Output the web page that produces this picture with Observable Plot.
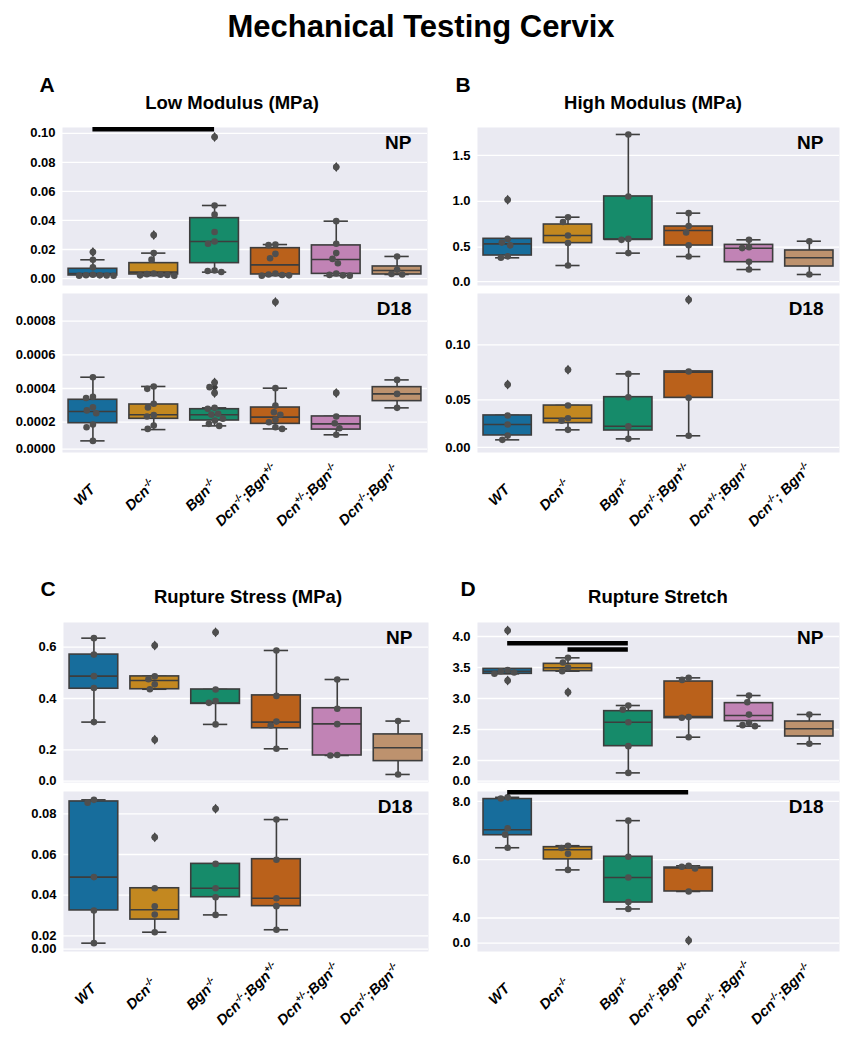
<!DOCTYPE html>
<html>
<head>
<meta charset="utf-8">
<script src="https://cdn.jsdelivr.net/npm/d3@7"></script>
<script src="https://cdn.jsdelivr.net/npm/@observablehq/plot@0.6"></script>
<style>
  html, body { margin: 0; padding: 0; background: #fff; }
  #root { position: relative; width: 843px; height: 1050px; background: #fff;
          font-family: "Liberation Sans", Arial, Helvetica, sans-serif; color: #000; overflow: hidden; }
  .abs { position: absolute; white-space: nowrap; font-weight: bold; transform: translate(-50%, -50%); line-height: 1; }
</style>
</head>
<body>
<div id="root"></div>
<script>
// ---------------- DATA ----------------
const groups = ["WT", "Dcn^-/-", "Bgn^-/-", "Dcn^-/-;Bgn^+/-", "Dcn^+/-;Bgn^-/-", "Dcn^-/-;Bgn^-/-"];
const labelsTop = ["WT", "Dcn^-/-", "Bgn^-/-", "Dcn^-/-;Bgn^+/-", "Dcn^+/-;Bgn^-/-", "Dcn^-/-;Bgn^-/-"];
const labelsTopB = ["WT", "Dcn^-/-", "Bgn^-/-", "Dcn^-/-;Bgn^+/-", "Dcn^+/-;Bgn^-/-", "Dcn^-/-; Bgn^-/-"];
const labelsBottomC = ["WT", "Dcn^-/-", "Bgn^-/-", "Dcn^-/-;Bgn^+/-", "Dcn^+/-;Bgn^-/-", "Dcn^-/-;Bgn^-/-"];
const labelsBottomD = ["WT", "Dcn^-/-", "Bgn^-/-", "Dcn^-/-;Bgn^+/-", "Dcn^+/- ;Bgn^-/-", "Dcn^-/-;Bgn^-/-"];
const colors = ["#176d9c", "#c38820", "#168b6a", "#ba611b", "#c183b5", "#bd926e"];

// box stats per group: [low whisker, q1, median, q3, high whisker]
// A. Low Modulus
const lowModNP_box = [[0.0020,0.0021,0.0035,0.0067,0.0129],[0.0020,0.0028,0.0044,0.0106,0.0175],[0.0044,0.0106,0.0255,0.0416,0.0503],[0.0020,0.0028,0.0094,0.0209,0.0234],[0.0020,0.0032,0.0131,0.0228,0.0395],[0.0028,0.0028,0.0055,0.0083,0.0152]];
const lowModNP_out = [[0.0182],[0.030],[0.0975],[],[0.0768],[]];
const lowModNP_pts = [[0.0182,0.0129,0.0078,0.0026,0.0023,0.0021,0.0020,0.0019,0.0022],[0.030,0.0175,0.013,0.0035,0.0030,0.0026,0.0022,0.0020,0.0024],[0.0975,0.0503,0.044,0.032,0.0255,0.024,0.0055,0.0052,0.0045],[0.0234,0.0230,0.017,0.014,0.0035,0.0028,0.0024,0.0022,0.0020],[0.0768,0.0395,0.024,0.0175,0.0135,0.0105,0.0035,0.0025,0.0022,0.0020],[0.0152,0.0060,0.0032,0.0028]];
const lowModNP_ticks = [0, 0.02, 0.04, 0.06, 0.08, 0.10];
const lowModNP_tickLabels = ["0.00","0.02","0.04","0.06","0.08","0.10"];
const lowModNP_domain = [-0.0048, 0.104];
const lowModNP_bars = [[0, 2, 0.1028]];

const lowModD18_box = [[0.000089,0.000194,0.000263,0.000333,0.000467],[0.000156,0.00022,0.000244,0.000305,0.000412],[0.000178,0.00021,0.000244,0.000277,0.000285],[0.00016,0.00019,0.00023,0.000287,0.000402],[0.000125,0.000156,0.00019,0.000234,0.000234],[0.000285,0.000325,0.000368,0.000408,0.000451]];
const lowModD18_out = [[],[],[0.000436,0.000408,0.000374],[0.000913],[0.000374],[]];
const lowModD18_pts = [[0.000467,0.00035,0.000344,0.000289,0.00027,0.000253,0.000186,0.00017,0.000089],[0.000412,0.000398,0.000309,0.000287,0.000242,0.000234,0.00018,0.00016],[0.000436,0.000408,0.000374,0.000285,0.00028,0.00025,0.000245,0.00022,0.00021,0.00019,0.000178],[0.000913,0.000402,0.000299,0.000259,0.000244,0.000214,0.0002,0.00017,0.00016],[0.000374,0.000234,0.000194,0.000164,0.000125],[0.000451,0.000368,0.000285]];
const lowModD18_ticks = [0.00004, 0.0002, 0.0004, 0.0006, 0.0008];
const lowModD18_tickLabels = ["0.0000","0.0002","0.0004","0.0006","0.0008"];
const lowModD18_domain = [0.00002, 0.000964];

// B. High Modulus
const highModNP_box = [[0.384,0.409,0.536,0.591,0.591],[0.30,0.544,0.627,0.747,0.827],[0.435,0.584,0.584,1.053,1.729],[0.398,0.518,0.682,0.725,0.871],[0.256,0.336,0.489,0.525,0.58],[0.202,0.289,0.384,0.464,0.565]];
const highModNP_out = [[1.016],[],[],[],[],[]];
const highModNP_pts = [[1.016,0.59,0.55,0.52,0.40,0.385],[0.827,0.775,0.627,0.545,0.30],[1.729,1.053,0.59,0.58,0.435],[0.871,0.73,0.66,0.52,0.398],[0.58,0.50,0.49,0.34,0.256],[0.565,0.202]];
const highModNP_ticks = [0.125, 0.5, 1.0, 1.5];
const highModNP_tickLabels = ["0.0","0.5","1.0","1.5"];
const highModNP_domain = [0.082, 1.805];

const highModD18_box = [[0.0136,0.0176,0.0276,0.0358,0.0358],[0.0227,0.0288,0.0333,0.0448,0.0448],[0.0145,0.0221,0.026,0.0524,0.0736],[0.0173,0.0518,0.0752,0.0758,0.0758],null,null];
const highModD18_out = [[0.0639],[0.0773],[],[0.141],[],[]];
const highModD18_pts = [[0.0639,0.0358,0.0276,0.0176,0.0136],[0.0773,0.0448,0.0333,0.031,0.0227],[0.0736,0.0524,0.026,0.0145],[0.141,0.0758,0.0518,0.0173],[],[]];
const highModD18_ticks = [0.0067, 0.05, 0.10];
const highModD18_tickLabels = ["0.00","0.05","0.10"];
const highModD18_domain = [0.0021, 0.1467];

// C. Rupture Stress
const ruptStressNP_box = [[0.308,0.438,0.487,0.571,0.635],[0.436,0.436,0.470,0.486,0.486],[0.299,0.379,0.382,0.435,0.435],[0.204,0.284,0.308,0.412,0.587],[0.178,0.178,0.301,0.362,0.474],[0.104,0.156,0.208,0.260,0.312]];
const ruptStressNP_out = [[],[0.606,0.239],[0.658],[],[],[]];
const ruptStressNP_pts = [[0.635,0.571,0.487,0.441,0.308],[0.606,0.486,0.475,0.455,0.436,0.239],[0.658,0.435,0.39,0.383,0.299],[0.587,0.41,0.31,0.295,0.204],[0.474,0.36,0.30,0.18,0.178],[0.312,0.104]];
const ruptStressNP_ticks = [0.078, 0.2, 0.4, 0.6];
const ruptStressNP_tickLabels = ["0.0","0.2","0.4","0.6"];
const ruptStressNP_domain = [0.0727, 0.696];

const ruptStressD18_box = [[0.0164,0.0325,0.0489,0.0861,0.0869],[0.0218,0.028,0.0328,0.0434,0.0434],[0.0303,0.039,0.0434,0.0554,0.0554],[0.023,0.0346,0.0385,0.0577,0.0772],null,null];
const ruptStressD18_out = [[],[0.0685],[0.0825],[],[],[]];
const ruptStressD18_pts = [[0.0869,0.0855,0.0489,0.0325,0.0164],[0.0685,0.0434,0.0345,0.0305,0.0218],[0.0825,0.0554,0.0434,0.039,0.0303],[0.0772,0.0574,0.0385,0.0346,0.023],[],[]];
const ruptStressD18_ticks = [0.0135, 0.02, 0.04, 0.06, 0.08];
const ruptStressD18_tickLabels = ["0.00","0.02","0.04","0.06","0.08"];
const ruptStressD18_domain = [0.0123, 0.091];

// D. Rupture Stretch
const ruptStretchNP_box = [[3.398,3.398,3.44,3.478,3.478],[3.441,3.441,3.495,3.559,3.656],[1.80,2.231,2.618,2.796,2.887],[2.376,2.683,2.71,3.274,3.333],[2.554,2.634,2.726,2.925,3.048],[2.269,2.387,2.511,2.629,2.742]];
const ruptStretchNP_out = [[4.097,3.29],[3.10],[],[],[],[]];
const ruptStretchNP_pts = [[4.097,3.46,3.44,3.42,3.40,3.29],[3.656,3.58,3.50,3.44,3.10],[2.887,2.82,2.618,2.231,1.80],[3.333,3.30,2.70,2.69,2.376],[3.048,2.94,2.74,2.61,2.57,2.554],[2.742,2.269]];
const ruptStretchNP_ticks = [1.667, 2.0, 2.5, 3.0, 3.5, 4.0];
const ruptStretchNP_tickLabels = ["0.0","2.0","2.5","3.0","3.5","4.0"];
const ruptStretchNP_domain = [1.645, 4.226];
const ruptStretchNP_bars = [[0, 2, 3.892], [1, 2, 3.790]];

const ruptStretchD18_box = [[6.41,6.84,7.03,8.08,8.14],[5.65,6.01,6.34,6.43,6.48],[4.31,4.53,5.39,6.10,7.34],[4.91,4.91,5.72,5.73,5.79],null,null];
const ruptStretchD18_out = [[],[],[],[3.23],[],[]];
const ruptStretchD18_pts = [[8.14,8.10,7.08,6.86,6.41],[6.48,6.40,6.20,5.65],[7.34,6.10,5.39,4.55,4.31],[5.79,5.76,5.70,4.91,3.23],[],[]];
const ruptStretchD18_ticks = [3.14, 4, 6, 8];
const ruptStretchD18_tickLabels = ["0.0","4.0","6.0","8.0"];
const ruptStretchD18_domain = [2.85, 8.34];
const ruptStretchD18_bars = [[0, 3, 8.318]];

// ---------------- DRAWING ----------------
const EDGE = "#3d3d3d";
const PT = "#4f4f4f";
const R = 3.3;
const LABEL_SIZE = 14.5;
const LABEL_GAP = 46;
const NS = "http://www.w3.org/2000/svg";
const root = document.getElementById("root");

const thinDiamond = {
  draw(ctx, size) {
    const r = Math.sqrt(size / Math.PI);
    ctx.moveTo(0, -r * 1.25);
    ctx.lineTo(r * 0.85, 0);
    ctx.lineTo(0, r * 1.25);
    ctx.lineTo(-r * 0.85, 0);
    ctx.closePath();
  }
};

function swarm(ys, d) {
  const order = ys.map((y, k) => k).sort((a, b) => ys[a] - ys[b]);
  const xs = new Array(ys.length);
  const placed = [];
  for (const k of order) {
    const y = ys[k];
    const cands = [0];
    for (const p of placed) {
      const dy = Math.abs(p.y - y);
      if (dy < d) { const dx = Math.sqrt(d * d - dy * dy); cands.push(p.x + dx, p.x - dx); }
    }
    cands.sort((a, b) => (Math.abs(a) - Math.abs(b)) || (a - b));
    let x = 0;
    for (const c of cands) {
      if (placed.every(p => (p.x - c) ** 2 + (p.y - y) ** 2 >= d * d - 1e-6)) { x = c; break; }
    }
    xs[k] = x;
    placed.push({x, y});
  }
  return xs;
}

function addText(txt, x, y, size) {
  const el = document.createElement("div");
  el.className = "abs";
  el.style.left = x + "px";
  el.style.top = y + "px";
  el.style.fontSize = size + "px";
  el.textContent = txt;
  root.appendChild(el);
}

// turn "Dcn^-/-" into Dcn with a superscript "-/-", and place each rotated label so that
// its bounding box's right edge sits just right of its tick and its centre lies on a common line
function fixLabels(svg, centerY) {
  const texts = Array.from(svg.querySelectorAll("text")).filter(t => (t.getAttribute("transform") || "").includes("rotate"));
  texts.forEach(t => {
    const s = t.textContent;
    while (t.firstChild) t.removeChild(t.firstChild);
    const parts = s.split(/\^([+\-]\/[+\-])/);
    let shifted = false;
    parts.forEach((p, k) => {
      if (!p) return;
      const ts = document.createElementNS(NS, "tspan");
      ts.textContent = p;
      if (k % 2 === 1) {
        ts.setAttribute("font-size", "9.5");
        ts.setAttribute("dy", "-5.5");
        shifted = true;
      } else if (shifted) {
        ts.setAttribute("dy", "5.5");
        shifted = false;
      }
      t.appendChild(ts);
    });
    const tr = t.getAttribute("transform");
    const m = tr.match(/translate\(\s*([-\d.e]+)[ ,]+([-\d.e]+)\s*\)/);
    const tx = m ? +m[1] : +(t.getAttribute("x") || 0);
    const L = t.getComputedTextLength();
    const half = (L + LABEL_SIZE) * Math.SQRT1_2 / 2;
    const cx = tx + 8 - half;
    t.removeAttribute("x");
    t.removeAttribute("y");
    t.setAttribute("transform", `translate(${cx},${centerY}) rotate(-45)`);
  });
}

function sub(cfg) {
  const {box, out, pts, ticks, tickLabels, domain, bars, tag, labels, left, top, w, h} = cfg;
  const ML = 60, MR = 3, MT = 6, MB = labels ? 115 : 6;
  const bw = w / 6;
  const yPix = v => (domain[1] - v) / (domain[1] - domain[0]) * h;
  const boxData = box.map((b, i) => b && {i, lo: b[0], q1: b[1], med: b[2], q3: b[3], hi: b[4]}).filter(Boolean);
  const outData = out.flatMap((arr, i) => arr.map(v => ({i, v})));
  const ptData = pts.flatMap((arr, i) => {
    const off = swarm(arr.map(yPix), 2 * R + 0.3);
    return arr.map((v, k) => ({i, v, dx: off[k] / bw}));
  });
  const tickMap = new Map(ticks.map((t, k) => [t, tickLabels[k]]));
  const marks = [
    Plot.frame({fill: "#EAEAF2", stroke: "none"}),
    Plot.ruleY(ticks, {stroke: "#ffffff", strokeWidth: 1.3}),
    Plot.axisY(ticks, {tickSize: 0, tickPadding: 7, tickFormat: d => tickMap.get(d), fontSize: 13, fontWeight: "bold", fill: "#000", label: null}),
    Plot.ruleX(boxData, {x: "i", y1: "lo", y2: "q1", stroke: EDGE, strokeWidth: 1.6}),
    Plot.ruleX(boxData, {x: "i", y1: "q3", y2: "hi", stroke: EDGE, strokeWidth: 1.6}),
    Plot.ruleY(boxData, {y: "lo", x1: d => d.i - 0.2, x2: d => d.i + 0.2, stroke: EDGE, strokeWidth: 1.6}),
    Plot.ruleY(boxData, {y: "hi", x1: d => d.i - 0.2, x2: d => d.i + 0.2, stroke: EDGE, strokeWidth: 1.6}),
    Plot.rect(boxData, {x1: d => d.i - 0.4, x2: d => d.i + 0.4, y1: "q1", y2: "q3", fill: d => colors[d.i], stroke: EDGE, strokeWidth: 1.6}),
    Plot.ruleY(boxData, {y: "med", x1: d => d.i - 0.4, x2: d => d.i + 0.4, stroke: EDGE, strokeWidth: 1.6}),
    Plot.dot(outData, {x: "i", y: "v", r: 4, symbol: thinDiamond, fill: EDGE, stroke: "none"}),
    Plot.dot(ptData, {x: d => d.i + d.dx, y: "v", r: R, fill: PT, stroke: "none"}),
    Plot.text([tag], {text: d => d, frameAnchor: "top-right", dx: -16, dy: 15, textAnchor: "end", lineAnchor: "middle", fontSize: 19, fontWeight: "bold", fill: "#000"})
  ];
  if (bars) marks.push(Plot.ruleY(bars, {y: b => b[2], x1: b => b[0], x2: b => b[1], stroke: "#000", strokeWidth: 4.5}));
  if (labels) marks.push(Plot.text(labels, {x: (d, i) => i, text: d => d, frameAnchor: "bottom", rotate: -45, textAnchor: "middle", lineAnchor: "middle", fontSize: LABEL_SIZE, fontWeight: "bold", fontStyle: "italic", fill: "#000"}));
  const svg = Plot.plot({
    width: ML + w + MR, height: MT + h + MB,
    marginLeft: ML, marginRight: MR, marginTop: MT, marginBottom: MB,
    style: {background: "transparent", fontFamily: "'Liberation Sans', Arial, sans-serif", overflow: "visible"},
    x: {domain: [-0.5, 5.5], axis: null},
    y: {domain, label: null},
    color: {type: "identity"},
    marks
  });
  svg.style.position = "absolute";
  svg.style.left = (left - ML) + "px";
  svg.style.top = (top - MT) + "px";
  root.appendChild(svg);
  if (labels) fixLabels(svg, MT + h + LABEL_GAP);
}

// titles
addText("Mechanical Testing Cervix", 421, 26, 31);
addText("A", 47, 84, 21);
addText("B", 463, 84, 21);
addText("C", 48, 588, 21);
addText("D", 468, 588, 21);
addText("Low Modulus (MPa)", 232, 103, 18.5);
addText("High Modulus (MPa)", 653, 103, 18.5);
addText("Rupture Stress (MPa)", 248, 597, 18.5);
addText("Rupture Stretch", 658, 597, 18.5);

// Panel A
sub({box: lowModNP_box, out: lowModNP_out, pts: lowModNP_pts, ticks: lowModNP_ticks, tickLabels: lowModNP_tickLabels, domain: lowModNP_domain, bars: lowModNP_bars, tag: "NP", left: 62, top: 127, w: 365, h: 158});
sub({box: lowModD18_box, out: lowModD18_out, pts: lowModD18_pts, ticks: lowModD18_ticks, tickLabels: lowModD18_tickLabels, domain: lowModD18_domain, tag: "D18", labels: labelsTop, left: 62, top: 293, w: 365, h: 159});
// Panel B
sub({box: highModNP_box, out: highModNP_out, pts: highModNP_pts, ticks: highModNP_ticks, tickLabels: highModNP_tickLabels, domain: highModNP_domain, tag: "NP", left: 477, top: 127, w: 362, h: 158});
sub({box: highModD18_box, out: highModD18_out, pts: highModD18_pts, ticks: highModD18_ticks, tickLabels: highModD18_tickLabels, domain: highModD18_domain, tag: "D18", labels: labelsTopB, left: 477, top: 293, w: 362, h: 159});
// Panel C
sub({box: ruptStressNP_box, out: ruptStressNP_out, pts: ruptStressNP_pts, ticks: ruptStressNP_ticks, tickLabels: ruptStressNP_tickLabels, domain: ruptStressNP_domain, tag: "NP", left: 63, top: 622, w: 365, h: 160});
sub({box: ruptStressD18_box, out: ruptStressD18_out, pts: ruptStressD18_pts, ticks: ruptStressD18_ticks, tickLabels: ruptStressD18_tickLabels, domain: ruptStressD18_domain, tag: "D18", labels: labelsBottomC, left: 63, top: 791, w: 365, h: 160});
// Panel D
sub({box: ruptStretchNP_box, out: ruptStretchNP_out, pts: ruptStretchNP_pts, ticks: ruptStretchNP_ticks, tickLabels: ruptStretchNP_tickLabels, domain: ruptStretchNP_domain, bars: ruptStretchNP_bars, tag: "NP", left: 477, top: 622, w: 362, h: 160});
sub({box: ruptStretchD18_box, out: ruptStretchD18_out, pts: ruptStretchD18_pts, ticks: ruptStretchD18_ticks, tickLabels: ruptStretchD18_tickLabels, domain: ruptStretchD18_domain, bars: ruptStretchD18_bars, tag: "D18", labels: labelsBottomD, left: 477, top: 791, w: 362, h: 160});
</script>
</body>
</html>
